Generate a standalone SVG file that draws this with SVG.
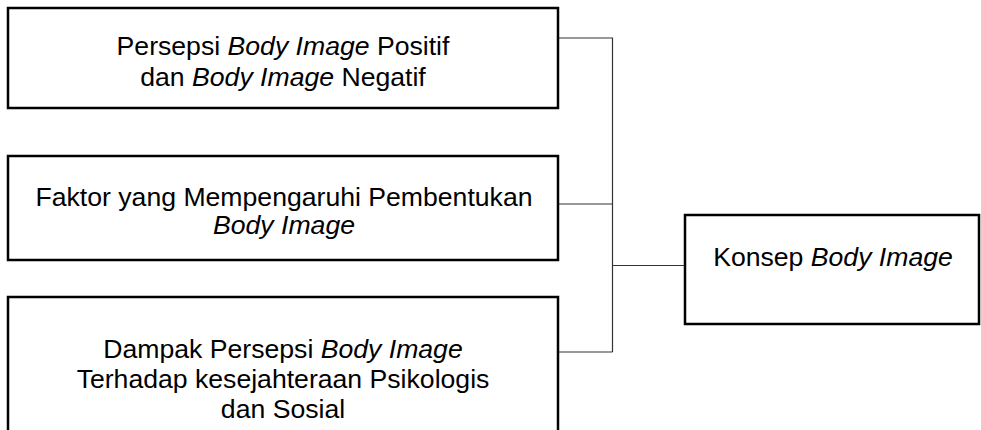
<svg xmlns="http://www.w3.org/2000/svg" width="981" height="430" viewBox="0 0 981 430">
<style>
.box{fill:#fff;stroke:#000;stroke-width:2.5}
.t{font-family:"Liberation Sans",Arial,sans-serif;font-size:25px;fill:#000;text-anchor:middle}
.i{font-style:italic}
.c{fill:none;stroke:#333;stroke-width:1.2}
</style>
<rect width="981" height="430" fill="#fff"/>
<g id="connectors">
<polyline class="c" points="558,38 612.5,38 612.5,352"/>
<line class="c" x1="558" y1="204" x2="612.5" y2="204"/>
<line class="c" x1="558" y1="352" x2="612.5" y2="352"/>
<line class="c" x1="612.5" y1="265.5" x2="685" y2="265.5"/>
</g>
<g id="n1">
<rect class="box" x="8" y="8" width="550" height="100"/>
<g transform="translate(283,0) scale(1.065,1)">
<text class="t" x="0" y="55">Persepsi <tspan class="i">Body Image</tspan> Positif</text>
<text class="t" x="0" y="86">dan <tspan class="i">Body Image</tspan> Negatif</text>
</g>
</g>
<g id="n2">
<rect class="box" x="8" y="156" width="550" height="104"/>
<g transform="translate(284,0) scale(1.065,1)">
<text class="t" x="0" y="206">Faktor yang Mempengaruhi Pembentukan</text>
<text class="t i" x="0" y="234">Body Image</text>
</g>
</g>
<g id="n3">
<rect class="box" x="8" y="297" width="550" height="140"/>
<g transform="translate(283,0) scale(1.065,1)">
<text class="t" x="0" y="358">Dampak Persepsi <tspan class="i">Body Image</tspan></text>
<text class="t" x="0" y="388">Terhadap kesejahteraan Psikologis</text>
<text class="t" x="0" y="418">dan Sosial</text>
</g>
</g>
<g id="n4">
<rect class="box" x="685" y="215" width="294" height="109"/>
<g transform="translate(833,0) scale(1.065,1)">
<text class="t" x="0" y="266">Konsep <tspan class="i">Body Image</tspan></text>
</g>
</g>
</svg>
